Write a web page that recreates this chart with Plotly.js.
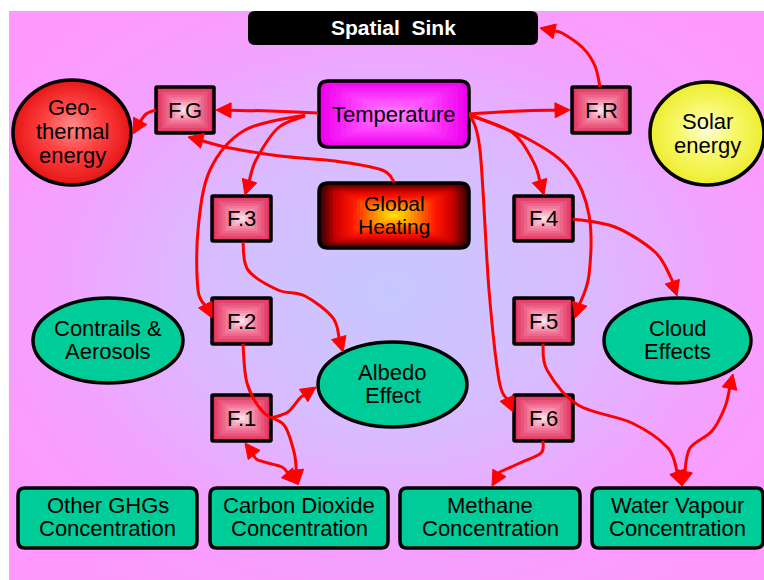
<!DOCTYPE html>
<html>
<head>
<meta charset="utf-8">
<script src="https://cdn.plot.ly/plotly-3.0.1.min.js"></script>
<style>html,body{margin:0;padding:0;background:#fff;}#chart{width:764px;height:580px;}</style>
</head>
<body>
<div id="chart"></div>
<script>
// ---------- diagram content ----------
const sinkLabel = 'Spatial Sink';
const coreLabels = ['Temperature', 'Global<br>Heating'];
const feedbackLabels = ['F.G', 'F.R', 'F.3', 'F.4', 'F.2', 'F.5', 'F.1', 'F.6'];
const sourceLabels = ['Geo-<br>thermal<br>energy', 'Solar<br>energy'];
const effectLabels = ['Contrails &amp;<br>Aerosols', 'Albedo<br>Effect', 'Cloud<br>Effects'];
const concentrationLabels = ['Other GHGs<br>Concentration', 'Carbon Dioxide<br>Concentration', 'Methane<br>Concentration', 'Water Vapour<br>Concentration'];
// links: [from, to, doubleHeaded]
const links = [
  ['Temperature', 'F.G', false],
  ['F.G', 'Geo-thermal', false],
  ['Global Heating', 'F.G', false],
  ['Temperature', 'F.3', false],
  ['Temperature', 'F.2', false],
  ['F.3', 'Albedo', false],
  ['F.2', 'Carbon Dioxide', false],
  ['F.1', 'Albedo', false],
  ['F.1', 'Carbon Dioxide', true],
  ['Temperature', 'F.R', false],
  ['F.R', 'Spatial Sink', false],
  ['Temperature', 'F.4', false],
  ['Temperature', 'F.6', false],
  ['Temperature', 'F.5', false],
  ['F.4', 'Cloud', false],
  ['F.5', 'Water Vapour', false],
  ['Water Vapour', 'Cloud', true],
  ['F.6', 'Methane', false]
];

// ---------- geometry (pixel-space layout) ----------
const W = 764, H = 580;
const FONT = '"Liberation Sans", Arial, sans-serif';
const boxF = {
  'F.G': [156, 87, 214, 133], 'F.R': [572, 87, 630, 133],
  'F.3': [212, 196, 271, 241], 'F.4': [514, 196, 573, 241],
  'F.2': [212, 298, 271, 344], 'F.5': [514, 298, 573, 344],
  'F.1': [212, 395, 271, 441], 'F.6': [514, 395, 573, 441]
};
const sinkBox = [248, 11, 538, 45];
const tempBox = [319, 81, 469, 147];
const heatBox = [319, 183, 469, 248];
const sourceEll = [[13, 80, 131, 185], [650, 82, 764, 185]];
const effectEll = [[33, 298, 183, 383], [318, 342, 467, 427], [604, 298, 751, 383]];
const concBoxes = [[18, 488, 197, 548], [210, 488, 388, 548], [400, 488, 580, 548], [592, 488, 763, 548]];
const linkPaths = [
  [[318, 113], [270, 111], [216, 110]],
  [[156, 110], [146, 114], [138, 125], [133, 134]],
  [[394, 182], [382, 170], [335, 161], [280, 156], [230, 148], [188, 137]],
  [[305, 116], [278, 128], [256, 160], [245, 195]],
  [[305, 115], [245, 130], [210, 170], [198, 230], [198, 290], [212, 318]],
  [[243, 242], [248, 270], [278, 290], [305, 296], [333, 318], [343, 352]],
  [[243, 344], [247, 383], [263, 412], [284, 425], [294, 452], [298, 485]],
  [[272, 418], [288, 412], [300, 398], [316, 387]],
  [[245, 443], [258, 460], [282, 467], [297, 484]],
  [[469, 114], [520, 111], [570, 110]],
  [[600, 87], [595, 66], [583, 48], [562, 33], [540, 28]],
  [[470, 115], [513, 133], [534, 163], [544, 195]],
  [[470, 115], [480, 150], [489, 290], [499, 380], [513, 412]],
  [[470, 115], [530, 140], [570, 170], [589, 215], [589, 275], [575, 318]],
  [[573, 219], [615, 227], [655, 252], [671, 278], [677, 296]],
  [[543, 344], [547, 370], [578, 405], [632, 423], [668, 448], [682, 486]],
  [[682, 486], [690, 448], [712, 431], [725, 407], [733, 374]],
  [[543, 441], [541, 453], [520, 463], [500, 472], [492, 486]]
];

// ---------- helpers ----------
function hex2rgb(h){h=h.replace('#','');return [parseInt(h.substr(0,2),16),parseInt(h.substr(2,2),16),parseInt(h.substr(4,2),16)];}
function mix(stops, t){
  for (let i=0;i<stops.length-1;i++){
    const a=stops[i], b=stops[i+1];
    if (t<=b[0]){ const u=(t-a[0])/(b[0]-a[0]||1); const ca=hex2rgb(a[1]), cb=hex2rgb(b[1]);
      return 'rgb('+ca.map((v,k)=>Math.round(v+(cb[k]-v)*u)).join(',')+')'; }
  }
  return stops[stops.length-1][1];
}
function rrPath(x0,y0,x1,y1,r){
  r=Math.min(r,(x1-x0)/2,(y1-y0)/2);
  return `M${x0+r},${y0} L${x1-r},${y0} Q${x1},${y0} ${x1},${y0+r} L${x1},${y1-r} Q${x1},${y1} ${x1-r},${y1} L${x0+r},${y1} Q${x0},${y1} ${x0},${y1-r} L${x0},${y0+r} Q${x0},${y0} ${x0+r},${y0} Z`;
}
const shapes = [];
const annotations = [];
function gradRect(b, r, stops, steps){
  const [x0,y0,x1,y1]=b; const cx=(x0+x1)/2, cy=(y0+y1)/2;
  for (let i=0;i<steps;i++){
    const t=i/steps; const s=1-t;
    const hw=(x1-x0)/2*s, hh=(y1-y0)/2*s;
    shapes.push({type:'path', path:rrPath(cx-hw,cy-hh,cx+hw,cy+hh,r*s), fillcolor:mix(stops,t), line:{width:0}, layer:'above'});
  }
}
function gradEll(b, stops, steps, off){
  const [x0,y0,x1,y1]=b; const cx=(x0+x1)/2, cy=(y0+y1)/2; off=off||[0,0];
  for (let i=0;i<steps;i++){
    const t=i/steps; const s=1-t;
    const hw=(x1-x0)/2*s, hh=(y1-y0)/2*s; const ox=off[0]*t, oy=off[1]*t;
    shapes.push({type:'circle', x0:cx-hw+ox, x1:cx+hw+ox, y0:cy-hh+oy, y1:cy+hh+oy, fillcolor:mix(stops,t), line:{width:0}, layer:'above'});
  }
}
function outlineRect(b, r, w){ shapes.push({type:'path', path:rrPath(b[0],b[1],b[2],b[3],r), fillcolor:'rgba(0,0,0,0)', line:{color:'#000', width:w}, layer:'above'}); }
function outlineEll(b, w){ shapes.push({type:'circle', x0:b[0], y0:b[1], x1:b[2], y1:b[3], fillcolor:'rgba(0,0,0,0)', line:{color:'#000', width:w}, layer:'above'}); }
function label(b, text, size, color, spacing, dy){
  const lines = text.split('<br>'); const n = lines.length;
  const cx=(b[0]+b[2])/2, cy=(b[1]+b[3])/2 + (dy||0);
  lines.forEach((t,i)=>{
    annotations.push({x:cx, y:cy + (i-(n-1)/2)*(spacing||23), xref:'x', yref:'y', text:t, showarrow:false,
      font:{family:FONT, size:size, color:color||'#000'}, xanchor:'center', yanchor:'middle', align:'center'});
  });
}
function smoothPath(P){
  let d=`M${P[0][0]},${P[0][1]}`;
  for (let i=0;i<P.length-1;i++){
    const p0=P[Math.max(i-1,0)], p1=P[i], p2=P[i+1], p3=P[Math.min(i+2,P.length-1)];
    const c1=[p1[0]+(p2[0]-p0[0])/6, p1[1]+(p2[1]-p0[1])/6];
    const c2=[p2[0]-(p3[0]-p1[0])/6, p2[1]-(p3[1]-p1[1])/6];
    d+=` C${c1[0].toFixed(1)},${c1[1].toFixed(1)} ${c2[0].toFixed(1)},${c2[1].toFixed(1)} ${p2[0]},${p2[1]}`;
  }
  return d;
}
const RED='#FF0000', HL=15, HW=7.5;
function head(tip, from){
  let dx=tip[0]-from[0], dy=tip[1]-from[1]; const L=Math.hypot(dx,dy)||1; dx/=L; dy/=L;
  const bx=tip[0]-dx*HL, by=tip[1]-dy*HL;
  shapes.push({type:'path', path:`M${tip[0]},${tip[1]} L${(bx-dy*HW).toFixed(1)},${(by+dx*HW).toFixed(1)} L${(bx+dy*HW).toFixed(1)},${(by-dx*HW).toFixed(1)} Z`, fillcolor:RED, line:{color:RED,width:1}, layer:'above'});
  return [tip[0]-dx*(HL-2), tip[1]-dy*(HL-2)];
}
function arrow(P, dbl){
  const pts=P.map(p=>p.slice());
  const n=pts.length;
  pts[n-1]=head(P[n-1], P[n-2]);
  if (dbl) pts[0]=head(P[0], P[1]);
  shapes.push({type:'path', path:smoothPath(pts), line:{color:RED, width:3}, fillcolor:'rgba(0,0,0,0)', layer:'above'});
}

// ---------- background radial gradient ----------
shapes.push({type:'rect', x0:9, y0:11, x1:W, y1:H, fillcolor:'#FF99FF', line:{width:0}, layer:'below'});
const BGN=40;
for (let i=0;i<BGN;i++){
  const t=i/BGN, s=1-t;
  shapes.push({type:'circle', x0:390-470*s, x1:390+470*s, y0:290-360*s, y1:290+360*s,
    fillcolor:mix([[0,'#FF99FF'],[0.25,'#F4A0FF'],[0.6,'#D8BCFF'],[1,'#C6C8FF']], t), line:{width:0}, layer:'below'});
}
shapes.push({type:'rect', x0:0, y0:0, x1:W, y1:11, fillcolor:'#FFFFFF', line:{width:0}, layer:'below'});
shapes.push({type:'rect', x0:0, y0:0, x1:9, y1:H, fillcolor:'#FFFFFF', line:{width:0}, layer:'below'});

// ---------- nodes ----------
shapes.push({type:'path', path:rrPath(sinkBox[0],sinkBox[1],sinkBox[2],sinkBox[3],7), fillcolor:'#000', line:{width:0}, layer:'above'});
label(sinkBox, '<b>'+sinkLabel.replace(' ','&nbsp;&nbsp;')+'</b>', 21, '#FFFFFF', 23, -1);

gradRect(tempBox, 9, [[0,'#EE00EE'],[0.5,'#FF44FF'],[1,'#FF88FF']], 14);
outlineRect(tempBox, 9, 3.5);
label(tempBox, coreLabels[0], 22);

gradRect(heatBox, 9, [[0,'#3A0000'],[0.2,'#CC0000'],[0.42,'#FF1500'],[0.75,'#FF9900'],[1,'#FFEE00']], 22);
outlineRect(heatBox, 9, 3.5);
label(heatBox, coreLabels[1], 21, '#000', 23, -1);

feedbackLabels.forEach(k=>{
  const b=boxF[k];
  gradRect(b, 0, [[0,'#E0305E'],[0.5,'#F580A0'],[1,'#FFF4F8']], 9);
  outlineRect(b, 1, 3.5);
  label(b, k, 22);
});

gradEll(sourceEll[0], [[0,'#E81818'],[0.5,'#FF4444'],[1,'#FF9090']], 16, [0,-8]);
outlineEll(sourceEll[0], 3.5);
label(sourceEll[0], sourceLabels[0], 22, '#000', 24, -1);
gradEll(sourceEll[1], [[0,'#EEEE33'],[0.5,'#F8F870'],[1,'#FFFFE0']], 16, [0,-5]);
outlineEll(sourceEll[1], 3.5);
label(sourceEll[1], sourceLabels[1], 22, '#000', 24, 0);

effectEll.forEach((b,i)=>{
  shapes.push({type:'circle', x0:b[0], y0:b[1], x1:b[2], y1:b[3], fillcolor:'#00CC99', line:{color:'#000', width:3.5}, layer:'above'});
  label(b, effectLabels[i], 22, '#000', 23, -1);
});
concentrationLabels.forEach((t,i)=>{
  const b=concBoxes[i];
  shapes.push({type:'path', path:rrPath(b[0],b[1],b[2],b[3],7), fillcolor:'#00CC99', line:{color:'#000', width:3.5}, layer:'above'});
  label(b, t, 22, '#000', 23.5, -1);
});

// ---------- links ----------
links.forEach((l,i)=>arrow(linkPaths[i], l[2]));

const layout = {
  width: W, height: H, margin:{l:0,r:0,t:0,b:0,pad:0},
  paper_bgcolor:'#FFFFFF', plot_bgcolor:'#FFFFFF', showlegend:false,
  xaxis:{range:[0,W], visible:false, fixedrange:true},
  yaxis:{range:[H,0], visible:false, fixedrange:true},
  shapes: shapes, annotations: annotations
};
Plotly.newPlot('chart', [{x:[0], y:[0], mode:'markers', marker:{opacity:0}, hoverinfo:'skip'}], layout, {staticPlot:true, displayModeBar:false});
</script>
</body>
</html>
